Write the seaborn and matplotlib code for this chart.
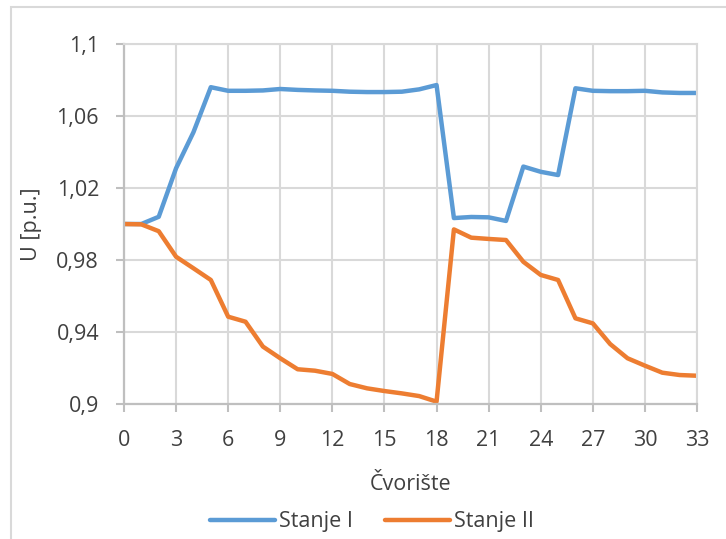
import matplotlib
matplotlib.use("Agg")
import matplotlib.pyplot as plt
import matplotlib.patches as mpatches
import seaborn as sns
import pandas as pd
import numpy as np

nodes = list(range(34))
stanje_1 = [1.000, 1.000, 1.004, 1.031, 1.051, 1.076, 1.074, 1.074, 1.0742, 1.075,
            1.0745, 1.0742, 1.0740, 1.0735, 1.0733, 1.0733, 1.0735, 1.0748, 1.0772,
            1.0033, 1.0039, 1.0037, 1.0017, 1.0319, 1.029, 1.0272, 1.0754, 1.074,
            1.0738, 1.0738, 1.0740, 1.0731, 1.0728, 1.0728]
stanje_2 = [1.000, 0.9998, 0.9960, 0.9818, 0.9754, 0.9689, 0.9485, 0.9457, 0.9319,
            0.9254, 0.9193, 0.9185, 0.9167, 0.9111, 0.9087, 0.9072, 0.9059, 0.9044,
            0.9013, 0.9970, 0.9924, 0.9917, 0.9911, 0.9790, 0.9717, 0.9689, 0.9476,
            0.9448, 0.9333, 0.9254, 0.9213, 0.9174, 0.9161, 0.9157]
series_names = ["Stanje I", "Stanje II"]
colors = ["#5B9BD5", "#ED7D31"]
x_ticks = list(range(0, 34, 3))
y_ticks = [0.90, 0.94, 0.98, 1.02, 1.06, 1.10]
y_tick_labels = ["0,9", "0,94", "0,98", "1,02", "1,06", "1,1"]

df = pd.DataFrame({
    "Čvorište": nodes * 2,
    "U": stanje_1 + stanje_2,
    "Stanje": [series_names[0]] * len(nodes) + [series_names[1]] * len(nodes),
})

sns.set_style("white")
plt.rcParams["font.family"] = ["Open Sans", "DejaVu Sans"]

W, H = 726, 539
fig = plt.figure(figsize=(W / 100, H / 100), dpi=100)
ax = fig.add_axes([124 / W, 1 - 404 / H, (697 - 124) / W, (404 - 44) / H])

sns.lineplot(data=df, x="Čvorište", y="U", hue="Stanje", palette=colors,
             linewidth=3.2, ax=ax, legend=True, solid_capstyle="round")

ax.set_xlim(0, 33)
ax.set_ylim(0.9, 1.1)
ax.set_xticks(x_ticks)
ax.set_yticks(y_ticks)
ax.set_yticklabels(y_tick_labels)
ax.grid(True, color="#d9d9d9", linewidth=1.5)
ax.set_axisbelow(True)
for side in ["top", "right"]:
    ax.spines[side].set_visible(True)
    ax.spines[side].set_color("#d9d9d9")
    ax.spines[side].set_linewidth(1.5)
for side in ["left", "bottom"]:
    ax.spines[side].set_color("#bfbfbf")
    ax.spines[side].set_linewidth(1.6)
ax.tick_params(axis="both", which="major", length=6, width=1.5, color="#bfbfbf",
               labelsize=15.5, labelcolor="#404040", direction="out",
               left=True, bottom=True)
ax.tick_params(axis="x", pad=13)
ax.tick_params(axis="y", pad=12)

ax.set_xlabel("Čvorište", fontsize=15.5, color="#404040", labelpad=16)
ax.set_ylabel("U [p.u.]", fontsize=15.5, color="#404040", labelpad=10)

handles, labels = ax.get_legend_handles_labels()
ax.get_legend().remove()
leg = fig.legend(handles, labels, loc="center", bbox_to_anchor=(372 / W, 1 - 522 / H),
                 ncol=2, frameon=False, fontsize=15.5, handlelength=3.0,
                 handletextpad=0.2, columnspacing=1.5, borderaxespad=0)
for t in leg.get_texts():
    t.set_color("#404040")
for h in leg.get_lines():
    h.set_linewidth(3.2)
    h.set_solid_capstyle("round")

border = mpatches.Rectangle((11 / W, -0.1), 1.2, (1 - 7 / H) + 0.1,
                            transform=fig.transFigure, fill=False,
                            edgecolor="#d9d9d9", linewidth=1.5, clip_on=False)
fig.patches.append(border)

fig.savefig("out.png", dpi=100)
